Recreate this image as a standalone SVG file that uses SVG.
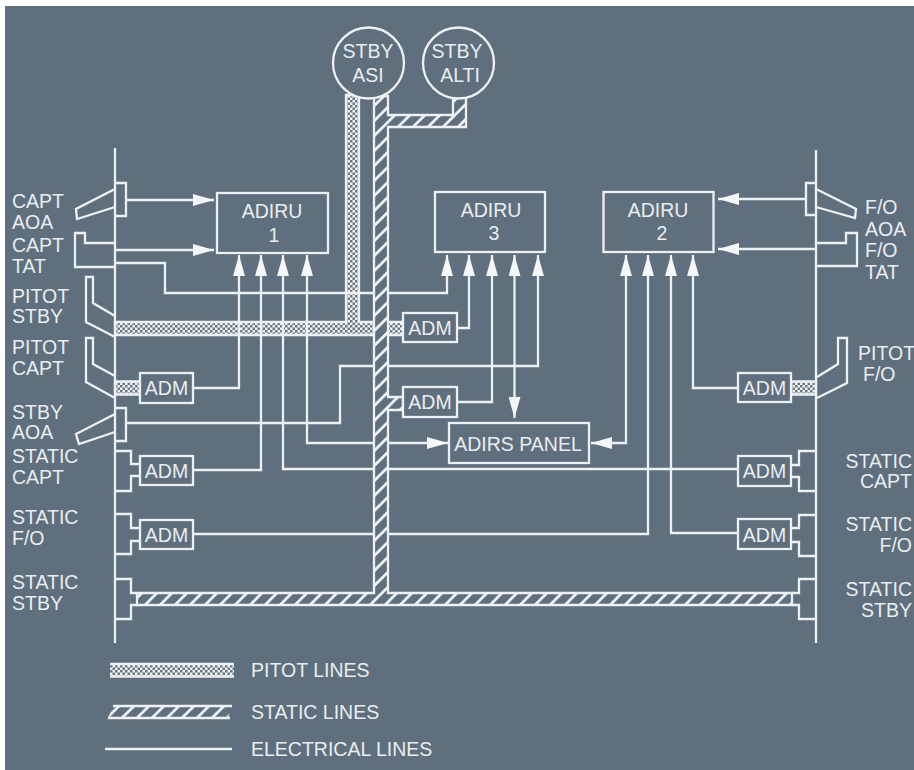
<svg xmlns="http://www.w3.org/2000/svg" width="914" height="770" viewBox="0 0 914 770">
<style>
.l{fill:none;stroke:#eef1f3;stroke-width:2.3}
.t{font-family:"Liberation Sans",Arial,sans-serif;font-size:19.500px;fill:#e9edf0}
.m{text-anchor:middle}
.e{text-anchor:end}
.b{fill:#5f6f7d;stroke:#eef1f3;stroke-width:2.3}
.p{fill:url(#pit);stroke:#eef1f3;stroke-width:2.3}
.s{fill:url(#sta);stroke:#eef1f3;stroke-width:2.3}
</style>
<defs>
<pattern id="pit" width="5" height="5" patternUnits="userSpaceOnUse">
<rect width="5" height="5" fill="#f0f2f4"/>
<rect x="0" y="0" width="2.500" height="2.500" fill="#6a7986"/>
<rect x="2.500" y="2.500" width="2.500" height="2.500" fill="#6a7986"/>
</pattern>
<pattern id="sta" width="15" height="15" patternUnits="userSpaceOnUse">
<rect width="15" height="15" fill="#5f6f7d"/>
<path d="M-3 18L18 -3M-3 3L3 -3M12 18L18 12" stroke="#eef1f3" stroke-width="2.800" fill="none"/>
</pattern>
<marker id="a" markerWidth="22" markerHeight="12" refX="21" refY="6" orient="auto-start-reverse" markerUnits="userSpaceOnUse">
<path d="M0 0L21 6L0 12Z" fill="#f4f6f7"/>
</marker>
</defs>
<rect width="914" height="770" fill="#5f6f7d"/>
<rect width="914" height="6" fill="#ffffff"/>
<rect width="5" height="770" fill="#ffffff"/>

<g id="connectors">
<path class="p" d="M115 322H346V95H359V322H403V335H115Z"/>
<path class="p" d="M115 381.500H140V394.500H115Z"/>
<path class="p" d="M791 381.500H816V394.500H791Z"/>
<path class="l" d="M115 148V643"/>
<path class="l" d="M816 150V643"/>
<path class="l" marker-end="url(#a)" d="M126 200H214"/>
<path class="l" marker-end="url(#a)" d="M115 250H214"/>
<path class="l" marker-end="url(#a)" d="M115 263H165V293H447V255"/>
<path class="l" marker-end="url(#a)" d="M193 388H239V255"/>
<path class="l" marker-end="url(#a)" d="M193 470H261V255"/>
<path class="l" marker-end="url(#a)" d="M738 469H283V255"/>
<path class="l" marker-start="url(#a)" marker-end="url(#a)" d="M448 443H307V255"/>
<path class="l" marker-end="url(#a)" d="M457 328H469V255"/>
<path class="l" marker-end="url(#a)" d="M457 402H492V255"/>
<path class="l" marker-start="url(#a)" marker-end="url(#a)" d="M514.500 255V418"/>
<path class="l" marker-end="url(#a)" d="M126 423H340V366H538V255"/>
<path class="l" marker-start="url(#a)" marker-end="url(#a)" d="M591 443H626V255"/>
<path class="l" marker-end="url(#a)" d="M193 534H648V255"/>
<path class="l" marker-end="url(#a)" d="M738 533H671V255"/>
<path class="l" marker-end="url(#a)" d="M738 388H693V255"/>
<path class="l" marker-end="url(#a)" d="M806 199H718"/>
<path class="l" marker-end="url(#a)" d="M816 249H718"/>
<path class="s" d="M374 96V593H137V605H792V593H388V410H403V397H388V127H466V97H453V115H388V96Z"/>
</g>

<g id="adiru1"><rect class="l" x="217" y="193" width="111" height="60"/><text class="t m" x="272" y="218">ADIRU</text><text class="t m" x="274" y="242">1</text></g>
<g id="adiru3"><rect class="l" x="435" y="192" width="110" height="60"/><text class="t m" x="491" y="217">ADIRU</text><text class="t m" x="494" y="240">3</text></g>
<g id="adiru2"><rect class="l" x="603.500" y="192" width="110" height="60"/><text class="t m" x="658" y="217">ADIRU</text><text class="t m" x="662" y="240">2</text></g>
<g id="adirs-panel"><rect class="b" x="449" y="423" width="140" height="40"/><text class="t m" x="518" y="451">ADIRS PANEL</text></g>

<g id="stby-asi"><circle class="b" cx="368.500" cy="63" r="35.500"/><text class="t m" x="368" y="58">STBY</text><text class="t m" x="368" y="82">ASI</text></g>
<g id="stby-alti"><circle class="b" cx="458.500" cy="63" r="35.500"/><text class="t m" x="457" y="58">STBY</text><text class="t m" x="460" y="82">ALTI</text></g>

<g id="adm-pitot-capt"><rect class="b" x="140" y="373" width="53" height="30"/><text class="t m" x="166.500" y="395">ADM</text></g>
<g id="adm-static-capt"><rect class="b" x="140" y="456" width="53" height="29"/><text class="t m" x="166.500" y="478">ADM</text></g>
<g id="adm-static-fo"><rect class="b" x="140" y="520" width="53" height="29"/><text class="t m" x="166.500" y="542">ADM</text></g>
<g id="adm-3-pitot"><rect class="b" x="403" y="313" width="54" height="29"/><text class="t m" x="430" y="335">ADM</text></g>
<g id="adm-3-static"><rect class="b" x="403" y="387" width="54" height="30"/><text class="t m" x="430" y="409">ADM</text></g>
<g id="adm-pitot-fo"><rect class="b" x="738" y="373" width="53" height="29"/><text class="t m" x="764.500" y="395">ADM</text></g>
<g id="adm-r-static-capt"><rect class="b" x="738" y="456" width="53" height="30"/><text class="t m" x="764.500" y="478">ADM</text></g>
<g id="adm-r-static-fo"><rect class="b" x="738" y="519" width="53" height="30"/><text class="t m" x="764.500" y="542">ADM</text></g>

<g id="capt-aoa"><path class="l" d="M115 183H126V216H115M115 189L76 209L77 219L115 207"/><text class="t" x="12" y="208">CAPT</text><text class="t" x="12" y="229">AOA</text></g>
<g id="capt-tat"><path class="l" d="M115 243H85V233H75V267H115"/><text class="t" x="12" y="252">CAPT</text><text class="t" x="12" y="273">TAT</text></g>
<g id="pitot-stby"><path class="l" d="M115 316L93 303V277H86V322L115 337"/><text class="t" x="12" y="303">PITOT</text><text class="t" x="12" y="323">STBY</text></g>
<g id="pitot-capt"><path class="l" d="M115 376L93 364V338H86V382L115 398"/><text class="t" x="12" y="354">PITOT</text><text class="t" x="12" y="375">CAPT</text></g>
<g id="stby-aoa"><path class="l" d="M115 408H126V441H115M115 414L76 434L79 444L115 432"/><text class="t" x="12" y="419">STBY</text><text class="t" x="12" y="439">AOA</text></g>
<g id="static-capt"><path class="l" d="M115 451H131V464H140M140 476H131V491H115"/><text class="t" x="12" y="463">STATIC</text><text class="t" x="12" y="484">CAPT</text></g>
<g id="static-fo"><path class="l" d="M115 514H131V528H140M140 541H131V554H115"/><text class="t" x="12" y="524">STATIC</text><text class="t" x="12" y="545">F/O</text></g>
<g id="static-stby"><path class="l" d="M115 579H131V593H137M137 605H131V619H115"/><text class="t" x="12" y="589">STATIC</text><text class="t" x="12" y="610">STBY</text></g>

<g id="fo-aoa"><path class="l" d="M816 183H806V215H816M816 189L856 209L855 218L816 207"/><text class="t" x="865" y="214">F/O</text><text class="t" x="865" y="236">AOA</text></g>
<g id="fo-tat"><path class="l" d="M816 243H846V233H857V266H816"/><text class="t" x="865" y="257">F/O</text><text class="t" x="865" y="279">TAT</text></g>
<g id="pitot-fo"><path class="l" d="M817 377L838 364V338H847V383L817 398"/><text class="t" x="858" y="360">PITOT</text><text class="t" x="863" y="381">F/O</text></g>
<g id="r-static-capt"><path class="l" d="M816 451H799V465H791M791 477H799V491H816"/><text class="t e" x="912" y="468">STATIC</text><text class="t e" x="912" y="488">CAPT</text></g>
<g id="r-static-fo"><path class="l" d="M816 515H799V528H791M791 542H799V556H816"/><text class="t e" x="912" y="531">STATIC</text><text class="t e" x="912" y="552">F/O</text></g>
<g id="r-static-stby"><path class="l" d="M816 579H799V593H792M792 605H799V619H816"/><text class="t e" x="912" y="596">STATIC</text><text class="t e" x="912" y="617">STBY</text></g>

<g id="legend">
<rect x="110" y="664" width="124" height="12" fill="url(#pit)"/>
<path class="l" d="M110 664H234M110 676.500H234"/>
<path d="M113 706H232L228 718H108Z" fill="url(#sta)"/>
<path class="l" d="M113 706H232M108 718H230"/>
<path class="l" d="M105 749H232"/>
<text class="t" x="251" y="677">PITOT LINES</text>
<text class="t" x="251" y="719">STATIC LINES</text>
<text class="t" x="251" y="756">ELECTRICAL LINES</text>
</g>
</svg>
